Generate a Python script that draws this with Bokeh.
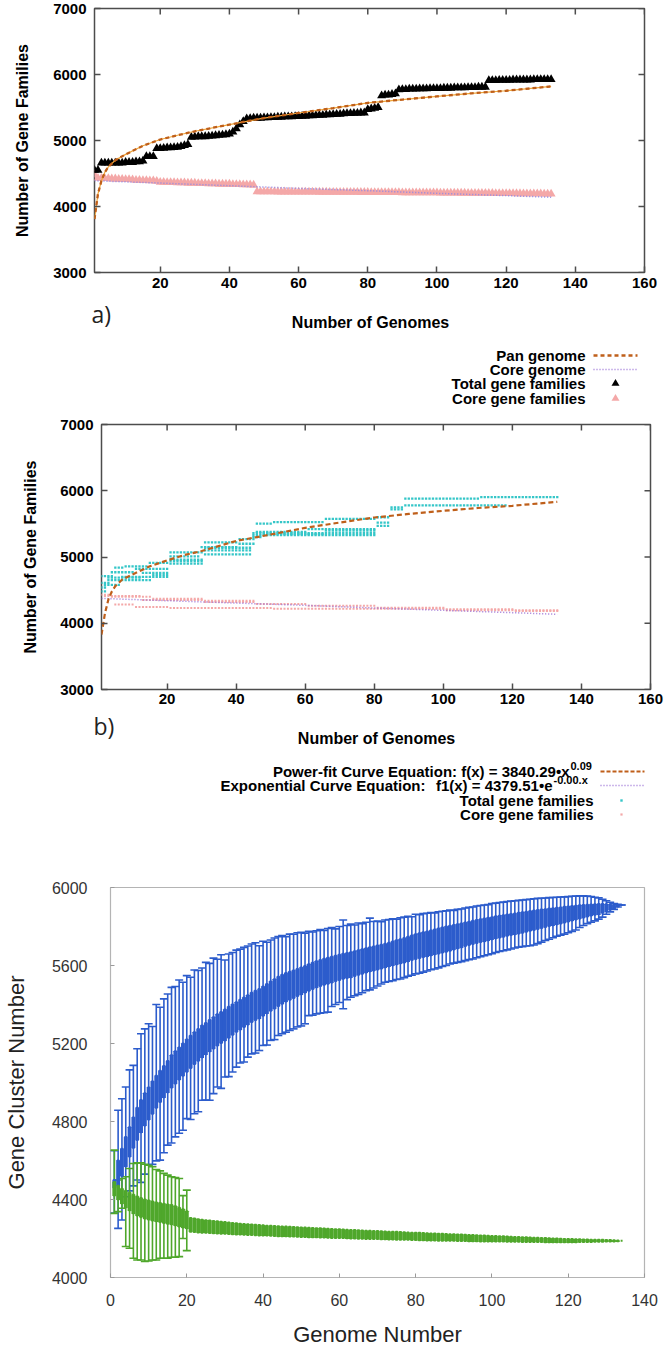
import math
from bokeh.plotting import figure
from bokeh.models import Range1d, FixedTicker, Whisker, TeeHead, ColumnDataSource
from bokeh.core.properties import value
from bokeh.embed import file_html
from bokeh.resources import INLINE

FONT = "Liberation Sans"

# ---------------- panel a data ----------------
genomes_a = list(range(1, 134))
total_a = [4550, 4550,
           4660, 4660, 4660, 4660, 4660, 4660, 4660, 4670, 4670, 4670, 4680, 4680, 4690,
           4760, 4760, 4760,
           4880, 4880, 4885, 4890, 4890, 4895, 4900, 4910, 4925, 4940,
           5050, 5055, 5060, 5060, 5060, 5065, 5070, 5075, 5080, 5085, 5090, 5100,
           5130, 5180, 5240, 5290,
           5330, 5335, 5340, 5340, 5340, 5345, 5345, 5350, 5350, 5355, 5355, 5360, 5360, 5360, 5365, 5365,
           5370, 5370, 5375, 5375, 5380, 5385, 5385, 5390, 5390, 5395, 5400, 5400, 5405, 5410, 5410,
           5415, 5415, 5420, 5420,
           5470, 5480, 5490, 5500,
           5680, 5690, 5690, 5700, 5710,
           5770, 5775, 5775, 5780, 5780, 5780, 5785, 5785, 5785, 5790, 5790, 5790, 5790, 5795, 5795,
           5795, 5800, 5800, 5800, 5800, 5805, 5805, 5805, 5810, 5810, 5810,
           5910, 5910, 5910, 5915, 5915, 5915, 5915, 5920, 5920, 5920, 5920, 5920, 5920, 5925, 5925,
           5925, 5925, 5925, 5925]
core_a = [4480,
          4430, 4430, 4425, 4425, 4420, 4420, 4415, 4415, 4410, 4410, 4405, 4400, 4400, 4395, 4395,
          4390, 4390, 4385,
          4370, 4370, 4365, 4365, 4365, 4360, 4360, 4360, 4355, 4355, 4355, 4350, 4350, 4350, 4345,
          4345, 4345, 4340, 4340, 4340, 4340, 4335, 4335, 4335, 4330, 4330, 4330, 4325,
          4225, 4225, 4225, 4224, 4224, 4224, 4223, 4223, 4223, 4222,
          4222, 4222, 4221, 4221, 4221, 4220, 4220, 4220, 4219, 4219,
          4219, 4218, 4218, 4218, 4217, 4217, 4217, 4216, 4216, 4216,
          4215, 4215, 4215, 4214, 4214, 4214, 4213, 4213, 4213, 4212,
          4212, 4212, 4211, 4211, 4211, 4210, 4210, 4210, 4209, 4209,
          4209, 4208, 4208, 4207, 4207, 4206, 4206, 4205, 4205, 4204,
          4204, 4203, 4203, 4202, 4202, 4201, 4201, 4200, 4200, 4199,
          4199, 4198, 4198, 4197, 4197, 4196, 4196, 4195, 4195, 4194,
          4194, 4193, 4193, 4192, 4192, 4191]
pan_fit_x = [1, 2, 3, 4, 5, 7, 10, 15, 20, 25, 30, 40, 50, 60, 70, 80, 90, 100, 110, 120, 133]
pan_fit_a = [3810, 4190, 4390, 4520, 4600, 4700, 4790, 4920, 5015, 5080, 5140, 5241, 5340,
             5417, 5490, 5570, 5620, 5668, 5715, 5754, 5819]
core_fit_x = [1, 20, 40, 60, 80, 100, 120, 133]
core_fit_a = [4390, 4355, 4315, 4275, 4240, 4200, 4165, 4140]

# ---------------- panel b data (permutation runs: first genome, last genome, value) ----------------
total_b_runs = [
    [(1, 4, 4710), (5, 7, 4840), (8, 14, 4860), (15, 20, 4910), (21, 30, 5070), (31, 40, 5220),
     (41, 45, 5270), (46, 50, 5505), (51, 65, 5525), (66, 80, 5575), (81, 84, 5600), (85, 88, 5750),
     (89, 110, 5880), (111, 133, 5905)],
    [(1, 3, 4610), (4, 10, 4770), (11, 20, 4820), (21, 29, 5010), (30, 40, 5150), (41, 45, 5200),
     (46, 60, 5380), (61, 80, 5420), (81, 84, 5520), (85, 88, 5720), (89, 118, 5778)],
    [(1, 2, 4540), (3, 12, 4690), (13, 20, 4760), (21, 30, 4960), (31, 44, 5100), (45, 47, 5300),
     (48, 65, 5345), (66, 80, 5400), (81, 84, 5470)],
    [(1, 2, 4480), (3, 15, 4650), (16, 20, 4730), (21, 30, 4900), (31, 44, 5040), (45, 80, 5330)],
    [(2, 6, 4580), (7, 20, 4700), (21, 30, 4940), (31, 44, 5140), (45, 80, 5360)],
]
core_b_runs = [
    [(1, 3, 4430), (4, 15, 4400), (16, 30, 4370), (31, 45, 4340), (46, 60, 4290), (61, 80, 4265),
     (81, 100, 4235), (101, 120, 4210), (121, 133, 4185)],
    [(5, 10, 4283), (11, 20, 4245), (21, 50, 4232), (51, 100, 4220), (101, 133, 4195)],
    [(2, 12, 4410), (13, 30, 4350), (31, 45, 4320)],
]
pan_fit_b = [3828, 4150, 4360, 4480, 4560, 4660, 4737, 4860, 4949, 5030, 5090, 5242, 5340,
             5440, 5520, 5596, 5650, 5697, 5740, 5773, 5833]
core_fit_b = [4375, 4340, 4305, 4270, 4230, 4195, 4160, 4135]

# ---------------- panel c data ----------------
genomes_c = list(range(1, 135))
blue_hi = [4650, 4858, 4917, 4977, 5065, 5088, 5173, 5250, 5275, 5301,
           5287, 5400, 5386, 5429, 5454, 5488, 5492, 5526, 5514, 5548,
           5540, 5577, 5574, 5587, 5616, 5611, 5638, 5632, 5655, 5628,
           5659, 5667, 5679, 5684, 5693, 5700, 5710, 5717, 5701, 5724,
           5719, 5731, 5741, 5748, 5753, 5748, 5761, 5760, 5768, 5770,
           5766, 5775, 5772, 5778, 5784, 5780, 5790, 5795, 5788, 5800,
           5833, 5805, 5812, 5808, 5818, 5815, 5822, 5843, 5826, 5828,
           5824, 5833, 5836, 5840, 5838, 5845, 5848, 5852, 5850, 5863,
           5860, 5866, 5868, 5872, 5870, 5876, 5878, 5880, 5884, 5882,
           5888, 5890, 5895, 5898, 5900, 5905, 5908, 5910, 5912, 5918,
           5920, 5923, 5925, 5928, 5930, 5932, 5934, 5936, 5938, 5940,
           5942, 5944, 5945, 5946, 5948, 5949, 5950, 5951, 5952, 5953,
           5955, 5956, 5957, 5957, 5956, 5954, 5950, 5947, 5940, 5932,
           5924, 5918, 5914, 5910]
blue_lo = [4330, 4252, 4295, 4414, 4444, 4470, 4500, 4488, 4530, 4576,
           4580, 4598, 4602, 4640, 4679, 4690, 4721, 4740, 4755, 4815,
           4810, 4840, 4850, 4909, 4910, 4909, 4943, 4977, 4970, 5028,
           5030, 5054, 5079, 5100, 5105, 5130, 5147, 5151, 5164, 5190,
           5192, 5216, 5220, 5241, 5250, 5258, 5267, 5275, 5285, 5290,
           5301, 5343, 5345, 5352, 5355, 5358, 5361, 5390, 5400, 5410,
           5378, 5425, 5437, 5445, 5452, 5460, 5471, 5475, 5485, 5495,
           5505, 5514, 5518, 5522, 5528, 5531, 5538, 5545, 5550, 5557,
           5560, 5566, 5572, 5578, 5582, 5588, 5595, 5600, 5608, 5612,
           5616, 5620, 5625, 5630, 5633, 5640, 5645, 5650, 5655, 5660,
           5667, 5672, 5676, 5680, 5685, 5690, 5694, 5697, 5700, 5701,
           5705, 5712, 5720, 5728, 5735, 5742, 5750, 5755, 5761, 5768,
           5775, 5782, 5795, 5805, 5815, 5822, 5829, 5838, 5848, 5863,
           5875, 5888, 5900, 5910]
blue_q3 = [4500, 4600, 4660, 4720, 4770, 4820, 4870, 4910, 4945, 4975,
           5005, 5035, 5060, 5085, 5110, 5140, 5160, 5180, 5200, 5220,
           5240, 5258, 5275, 5292, 5305, 5320, 5335, 5350, 5362, 5375,
           5388, 5400, 5412, 5424, 5436, 5448, 5460, 5470, 5480, 5492,
           5505, 5518, 5530, 5542, 5552, 5562, 5568, 5574, 5582, 5590,
           5598, 5606, 5614, 5622, 5628, 5634, 5640, 5645, 5650, 5655,
           5660, 5664, 5668, 5673, 5678, 5683, 5688, 5693, 5698, 5702,
           5706, 5711, 5717, 5723, 5729, 5735, 5741, 5748, 5754, 5760,
           5765, 5770, 5775, 5780, 5785, 5790, 5795, 5800, 5804, 5808,
           5812, 5816, 5820, 5825, 5829, 5833, 5837, 5841, 5845, 5848,
           5852, 5855, 5858, 5861, 5864, 5867, 5870, 5873, 5876, 5880,
           5882, 5885, 5887, 5889, 5892, 5894, 5896, 5898, 5901, 5903,
           5905, 5907, 5909, 5910, 5912, 5913, 5914, 5915, 5915, 5914,
           5913, 5912, 5911, 5910]
blue_q1 = [4460, 4470, 4520, 4570, 4620, 4665, 4705, 4745, 4780, 4810,
           4840, 4870, 4900, 4925, 4950, 4975, 4995, 5015, 5035, 5055,
           5075, 5095, 5112, 5130, 5145, 5160, 5175, 5190, 5203, 5216,
           5230, 5245, 5260, 5272, 5285, 5297, 5310, 5320, 5330, 5342,
           5355, 5368, 5380, 5392, 5404, 5415, 5425, 5433, 5443, 5452,
           5461, 5470, 5479, 5488, 5495, 5501, 5507, 5513, 5520, 5526,
           5532, 5536, 5540, 5546, 5552, 5558, 5564, 5570, 5575, 5580,
           5585, 5591, 5596, 5601, 5606, 5611, 5616, 5622, 5628, 5633,
           5638, 5643, 5648, 5653, 5658, 5662, 5667, 5671, 5676, 5682,
           5688, 5694, 5700, 5705, 5710, 5715, 5720, 5725, 5730, 5735,
           5740, 5744, 5748, 5752, 5756, 5760, 5764, 5768, 5773, 5778,
           5782, 5787, 5792, 5797, 5802, 5807, 5812, 5816, 5821, 5826,
           5831, 5836, 5841, 5846, 5851, 5856, 5860, 5863, 5870, 5878,
           5886, 5894, 5902, 5910]
green_outer_x = list(range(1, 21))
green_hi = [4653, 4500, 4508, 4517, 4559, 4585, 4588, 4588, 4581, 4576,
            4568, 4554, 4547, 4534, 4525, 4517, 4513, 4508, 4420, 4448]
green_lo = [4329, 4338, 4355, 4159, 4150, 4099, 4090, 4090, 4082, 4085,
            4090, 4090, 4099, 4099, 4099, 4104, 4104, 4107, 4200, 4138]
green_q3 = [4490, 4470, 4455, 4445, 4435, 4425, 4415, 4408, 4400, 4395,
            4390, 4385, 4382, 4378, 4375, 4372, 4365, 4358, 4350, 4340,
            4305, 4302, 4299, 4296, 4294, 4292, 4290, 4288, 4286, 4284,
            4282, 4280, 4278, 4276, 4275, 4273, 4272, 4270, 4269, 4268,
            4266, 4265, 4264, 4263, 4262, 4261, 4260, 4259, 4258, 4257,
            4256, 4255, 4254, 4253, 4252, 4251, 4250, 4249, 4248, 4247,
            4246, 4245, 4244, 4243, 4242, 4241, 4240, 4240, 4239, 4238,
            4237, 4236, 4235, 4235, 4234, 4233, 4232, 4231, 4230, 4230,
            4229, 4228, 4227, 4226, 4226, 4225, 4224, 4223, 4222, 4222,
            4221, 4220, 4219, 4218, 4218, 4217, 4216, 4215, 4214, 4213,
            4213, 4212, 4211, 4210, 4209, 4208, 4208, 4207, 4206, 4205,
            4204, 4204, 4203, 4202, 4201, 4200, 4200, 4199, 4198, 4197,
            4197, 4196, 4196, 4195, 4195, 4194, 4194, 4193, 4193, 4192,
            4192, 4191, 4190, 4188]
green_q1 = [4420, 4400, 4380, 4360, 4345, 4330, 4318, 4310, 4303, 4297,
            4292, 4288, 4284, 4280, 4276, 4273, 4268, 4262, 4257, 4252,
            4235, 4233, 4231, 4230, 4229, 4228, 4227, 4226, 4225, 4224,
            4223, 4222, 4221, 4220, 4219, 4218, 4218, 4217, 4216, 4215,
            4215, 4214, 4213, 4212, 4212, 4211, 4210, 4210, 4209, 4208,
            4208, 4207, 4206, 4206, 4205, 4205, 4204, 4203, 4203, 4202,
            4202, 4201, 4200, 4200, 4199, 4199, 4198, 4198, 4197, 4197,
            4196, 4196, 4195, 4195, 4194, 4194, 4193, 4193, 4192, 4192,
            4191, 4191, 4190, 4190, 4190, 4189, 4189, 4188, 4188, 4188,
            4187, 4187, 4187, 4186, 4186, 4186, 4185, 4185, 4185, 4184,
            4184, 4184, 4184, 4183, 4183, 4183, 4183, 4182, 4182, 4182,
            4182, 4182, 4182, 4181, 4181, 4181, 4181, 4181, 4181, 4181,
            4181, 4181, 4182, 4182, 4182, 4182, 4183, 4183, 4183, 4184,
            4184, 4185, 4186, 4188]

gnu_xticks = [20, 40, 60, 80, 100, 120, 140, 160]
gnu_yticks = [3000, 4000, 5000, 6000, 7000]

ORANGE_LIGHT = "#f0a538"
ORANGE = "#bf5f1a"
PURPLE = "#9b72d6"
PERIWINKLE = "#8a86e8"
PINK = "#f4a8a8"
CYAN = "#35c6c8"
BLUE = "#2c5ccc"
GREEN = "#4fa72b"
TICK = "#4d4d4d"
W = 666


def expand(runs):
    xs, ys = [], []
    for run in runs:
        for x0, x1, y in run:
            for x in range(x0, x1 + 1):
                xs.append(x)
                ys.append(y)
    return xs, ys


def gnuplot_style(p):
    p.xgrid.grid_line_color = None
    p.ygrid.grid_line_color = None
    p.outline_line_color = TICK
    p.outline_line_width = 1.5
    p.xaxis.ticker = FixedTicker(ticks=gnu_xticks)
    p.yaxis.ticker = FixedTicker(ticks=gnu_yticks)
    for ax in p.below + p.left:
        ax.axis_line_color = None
        ax.major_tick_in = 6
        ax.major_tick_out = 0
        ax.major_tick_line_color = TICK
        ax.major_tick_line_width = 1.5
        ax.minor_tick_line_color = None
        ax.major_label_text_font = FONT
        ax.major_label_text_font_style = "bold"
        ax.major_label_text_font_size = "15px"
        ax.major_label_text_color = "black"
        ax.axis_label_text_font = FONT
        ax.axis_label_text_font_style = "bold"
        ax.axis_label_text_font_size = "16px"
        ax.axis_label_text_color = "black"
    # mirrored ticks on top and right (half of each dash is clipped by the frame)
    top = p.y_range.end
    right = p.x_range.end
    p.scatter(gnu_xticks, [top] * len(gnu_xticks), marker="dash", angle=math.pi / 2, size=12,
              line_color=TICK, line_width=1.5)
    p.scatter([right] * len(gnu_yticks), gnu_yticks, marker="dash", size=12,
              line_color=TICK, line_width=1.5)


def key_figure(h):
    p = figure(frame_width=W, frame_height=h, x_range=Range1d(0, W), y_range=Range1d(h, 0),
               x_axis_type=None, y_axis_type=None, min_border=0,
               output_backend="svg", toolbar_location=None)
    p.outline_line_color = None
    return p


bold15 = dict(text_font=value(FONT), text_font_style="bold", text_font_size="15px",
              text_baseline="middle", text_color="black")
bold16 = dict(text_font=value(FONT), text_font_style="bold", text_font_size="16px",
              text_baseline="middle", text_color="black", text_align="center")
panel_tag = dict(text_font=value("Open Sans"), text_font_size="23px", text_color="#222222",
                 text_baseline="middle", text_align="left")

# ---------------- panel a ----------------
pA = figure(frame_width=550, frame_height=264, x_range=Range1d(1, 160), y_range=Range1d(3000, 7000),
            min_border_left=94, min_border_right=22, min_border_top=8, min_border_bottom=26,
            y_axis_label="Number of Gene Families",
            output_backend="svg", toolbar_location=None)
gnuplot_style(pA)
pA.xaxis[0].major_label_standoff = 5
pA.yaxis[0].major_label_standoff = 8
pA.yaxis[0].axis_label_standoff = 19
pA.scatter(genomes_a, core_a, marker="triangle", size=9, fill_color=PINK, line_color=None)
pA.scatter(genomes_a, total_a, marker="triangle", size=9, fill_color="black", line_color=None)
pA.line(core_fit_x, core_fit_a, line_color=PERIWINKLE, line_width=1.5, line_dash="1 2")
pA.line(pan_fit_x, pan_fit_a, line_color=ORANGE_LIGHT, line_width=1.2)
pA.line(pan_fit_x, pan_fit_a, line_color=ORANGE, line_width=2.3, line_dash="4 3")

kA = key_figure(110)
rows_a = [57, 71, 85, 100]
kA.text(x=[91], y=[15], text=["a)"], **panel_tag)
kA.text(x=[370], y=[24], text=["Number of Genomes"], **bold16)
kA.text(x=[585] * 4, y=rows_a,
        text=["Pan genome", "Core genome", "Total gene families", "Core gene families"],
        text_align="right", **bold15)
kA.line([593, 637], [rows_a[0]] * 2, line_color=ORANGE, line_width=2.3, line_dash="4 3")
kA.line([593, 637], [rows_a[1]] * 2, line_color=PURPLE, line_width=1.5, line_dash="1 2")
kA.scatter([615], [rows_a[2]], marker="triangle", size=8, fill_color="black", line_color=None)
kA.scatter([615], [rows_a[3]], marker="triangle", size=8, fill_color=PINK, line_color=None)

# ---------------- panel b ----------------
pB = figure(frame_width=549, frame_height=265, x_range=Range1d(1, 160), y_range=Range1d(3000, 7000),
            min_border_left=101, min_border_right=16, min_border_top=16, min_border_bottom=22,
            y_axis_label="Number of Gene Families",
            output_backend="svg", toolbar_location=None)
gnuplot_style(pB)
pB.xaxis[0].major_label_standoff = 4
pB.yaxis[0].major_label_standoff = 8
pB.yaxis[0].axis_label_standoff = 18
tx, ty = expand(total_b_runs)
cx, cy = expand(core_b_runs)
pB.scatter(tx, ty, marker="square", size=2.3, fill_color=CYAN, line_color=None)
pB.scatter(cx, cy, marker="square", size=2.0, fill_color=PINK, line_color=None)
pB.line(core_fit_x, core_fit_b, line_color=PURPLE, line_width=1.5, line_dash="1 2")
pB.line(pan_fit_x, pan_fit_b, line_color=ORANGE, line_width=2.2, line_dash="5 3")

kB = key_figure(114)
rows_b = [60, 74, 89, 103]
kB.text(x=[93], y=[14], text=["b)"], **panel_tag)
kB.text(x=[376], y=[27], text=["Number of Genomes"], **bold16)
kB.text(x=[569, 552, 593, 593], y=rows_b,
        text=["Power-fit Curve Equation: f(x) = 3840.29\u2022x", "f1(x) = 4379.51\u2022e",
              "Total gene families", "Core gene families"],
        text_align="right", **bold15)
kB.text(x=[425], y=[rows_b[1]], text=["Exponential Curve Equation:"], text_align="right", **bold15)
kB.text(x=[570, 553], y=[rows_b[0] - 6, rows_b[1] - 6], text=["0.09", "-0.00.x"],
        text_align="left", text_font=value(FONT), text_font_style="bold",
        text_font_size="11px", text_baseline="middle", text_color="black")
kB.line([600, 644], [rows_b[0]] * 2, line_color=ORANGE, line_width=2, line_dash="4 2")
kB.line([600, 644], [rows_b[1]] * 2, line_color=PURPLE, line_width=1.5, line_dash="1 2")
kB.scatter([621], [rows_b[2]], marker="square", size=2.4, fill_color=CYAN, line_color=None)
kB.scatter([621], [rows_b[3]], marker="square", size=2.2, fill_color=PINK, line_color=None)

# ---------------- panel c ----------------
pC = figure(frame_width=534, frame_height=390, x_range=Range1d(0, 140), y_range=Range1d(4000, 6000),
            min_border_left=106, min_border_right=26, min_border_top=62, min_border_bottom=75,
            x_axis_label="Genome Number", y_axis_label="Gene Cluster Number",
            output_backend="svg", toolbar_location=None)
pC.xgrid.grid_line_color = None
pC.ygrid.grid_line_color = None
pC.outline_line_color = "#b4b4b4"
pC.outline_line_width = 1.2
pC.xaxis.ticker = FixedTicker(ticks=[0, 20, 40, 60, 80, 100, 120, 140])
pC.yaxis.ticker = FixedTicker(ticks=[4000, 4400, 4800, 5200, 5600, 6000])
for ax in pC.below + pC.left:
    ax.axis_line_color = None
    ax.major_tick_in = 4
    ax.major_tick_out = 0
    ax.major_tick_line_color = "#9a9a9a"
    ax.minor_tick_line_color = None
    ax.major_label_text_font = FONT
    ax.major_label_text_font_size = "16px"
    ax.major_label_text_color = "#333333"
    ax.axis_label_text_font = FONT
    ax.axis_label_text_font_style = "normal"
    ax.axis_label_text_font_size = "22px"
    ax.axis_label_text_color = "#222222"
pC.xaxis[0].major_label_standoff = 16
pC.xaxis[0].axis_label_standoff = 13
pC.yaxis[0].major_label_standoff = 23
pC.yaxis[0].axis_label_standoff = 20

src_blue = ColumnDataSource(dict(x=genomes_c, hi=blue_hi, lo=blue_lo, q3=blue_q3, q1=blue_q1))
src_green = ColumnDataSource(dict(x=genomes_c, q3=green_q3, q1=green_q1))
src_green_outer = ColumnDataSource(dict(x=green_outer_x, hi=green_hi, lo=green_lo))

for src, col in ((src_blue, BLUE), (src_green_outer, GREEN)):
    pC.add_layout(Whisker(source=src, base="x", upper="hi", lower="lo", level="underlay",
                          line_color=col, line_width=1.6,
                          upper_head=TeeHead(size=8, line_color=col, line_width=1.6),
                          lower_head=TeeHead(size=8, line_color=col, line_width=1.6)))
pC.vbar(x="x", top="q3", bottom="q1", width=0.5, source=src_blue,
        fill_color="white", line_color=BLUE, line_width=2.0)
pC.vbar(x="x", top="q3", bottom="q1", width=0.5, source=src_green,
        fill_color="white", line_color=GREEN, line_width=2.0)

# independent roots stacked top to bottom (no frame alignment between them)
roots = [pA, kA, pB, kB, pC]
open("out.html", "w").write(file_html(roots, INLINE, "Pan and core genome"))
